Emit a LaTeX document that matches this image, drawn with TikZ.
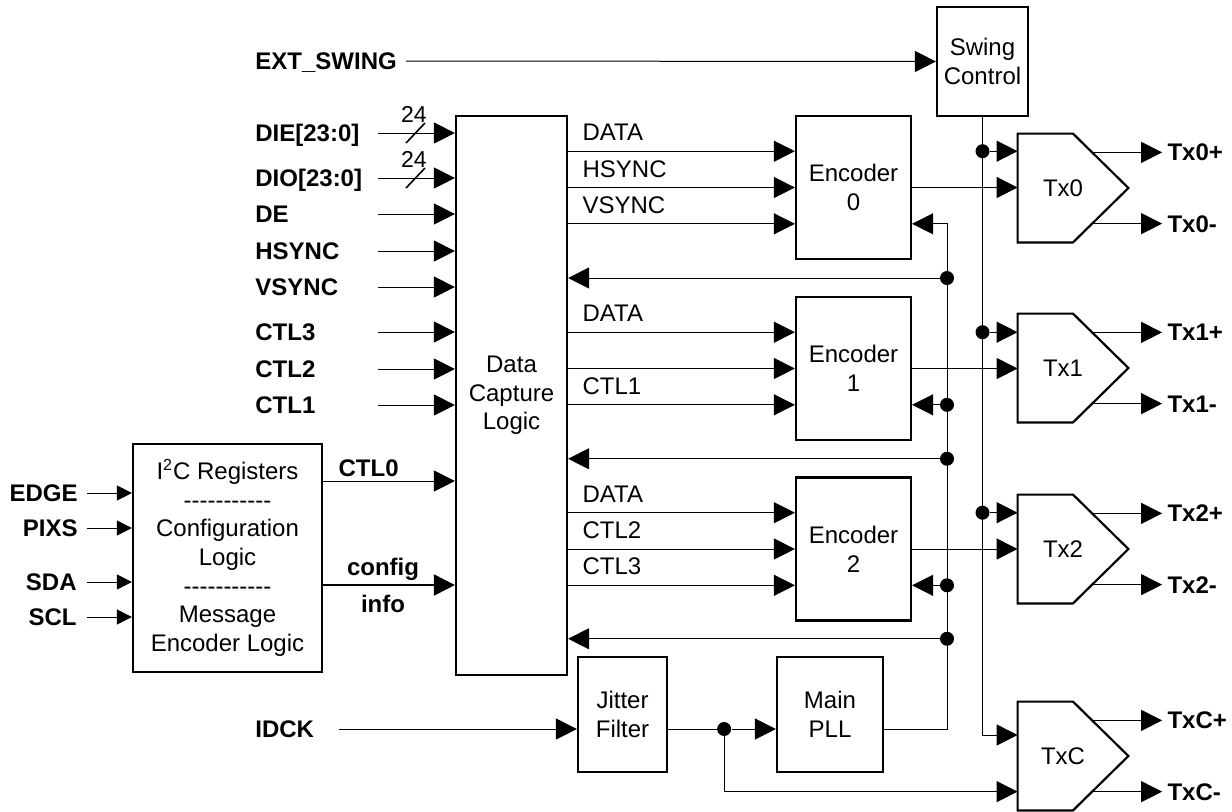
\documentclass[tikz,border=0pt]{standalone}
\usepackage{fontspec}
\setmainfont{Liberation Sans}[Ligatures=TeXOff]
\usetikzlibrary{arrows.meta,calc}
\begin{document}
\begin{tikzpicture}[
    x=0.5pt, y=-0.5pt,
    font=\fontsize{12}{14.3}\selectfont,
    % Style for the function blocks
    block/.style={
        rectangle,
        draw=black,
        line width=1.1pt,
        align=center,
        inner sep=0pt
    },
    % Style for the transmitter outline
    txOutline/.style={
        draw=black,
        line width=1.1pt
    },
    % Style for the holder node of a transmitter
    txBox/.style={
        rectangle,
        minimum width=55pt,
        minimum height=54pt,
        inner sep=0pt
    },
    % Style for the bold pin names
    pinLabel/.style={
        font=\fontsize{12}{14.3}\selectfont\bfseries,
        inner sep=0pt,
        text height=8.6pt,
        text depth=0pt
    },
    % Style for the names on the internal buses
    busLabel/.style={
        inner sep=0pt,
        text height=8.6pt,
        text depth=0pt,
        anchor=west
    },
    % Style for the bus width marks
    widthLabel/.style={
        font=\fontsize{11.5}{13}\selectfont,
        inner sep=0pt
    },
    % Style for the signal lines
    sig/.style={
        draw=black,
        line width=0.5pt,
        -{Triangle[length=10.5pt,width=10.5pt]}
    },
    sigSmall/.style={
        draw=black,
        line width=0.5pt,
        -{Triangle[length=7.5pt,width=7.5pt]}
    },
    wire/.style={
        draw=black,
        line width=0.5pt
    },
    % Style for the junction dots
    junction/.style={
        circle,
        fill=black,
        inner sep=0pt,
        minimum size=7pt
    }
]
    \useasboundingbox (0,0) rectangle (1232,811);

    % --- BLOCKS ---
    \node[block, minimum width=55.5pt, minimum height=279.5pt] (dcl) at (511.5,395.5) {Data\\Capture\\Logic};
    \node[block, minimum width=94.5pt, minimum height=114pt] (i2c) at (227.5,558)
        {I\textsuperscript{2}C Registers\\-----------\\Configuration\\Logic\\-----------\\Message\\Encoder Logic};
    \node[block, minimum width=45.5pt, minimum height=54.5pt] (swing) at (982.5,61.5) {Swing\\Control};
    \node[block, minimum width=57.5pt, minimum height=71.5pt] (enc0) at (853.5,187.5) {Encoder\\0};
    \node[block, minimum width=57.5pt, minimum height=71.5pt] (enc1) at (853.5,368.5) {Encoder\\1};
    \node[block, minimum width=57.5pt, minimum height=71.5pt] (enc2) at (853.5,549) {Encoder\\2};
    \node[block, minimum width=44.5pt, minimum height=57.5pt] (jitter) at (622.5,714.5) {Jitter\\Filter};
    \node[block, minimum width=53pt, minimum height=57.5pt] (pll) at (830,714.5) {Main\\PLL};

    % --- TRANSMITTERS ---
    \node[txBox] (tx0) at (1073,188) {Tx0\hspace*{10pt}};
    \node[txBox] (tx1) at (1073,368) {Tx1\hspace*{10pt}};
    \node[txBox] (tx2) at (1073,549) {Tx2\hspace*{10pt}};
    \node[txBox] (txc) at (1073,756) {TxC\hspace*{10pt}};
    \draw[txOutline] (tx0.north west) -- (tx0.north) -- (tx0.east) -- (tx0.south) -- (tx0.south west) -- cycle;
    \draw[txOutline] (tx1.north west) -- (tx1.north) -- (tx1.east) -- (tx1.south) -- (tx1.south west) -- cycle;
    \draw[txOutline] (tx2.north west) -- (tx2.north) -- (tx2.east) -- (tx2.south) -- (tx2.south west) -- cycle;
    \draw[txOutline] (txc.north west) -- (txc.north) -- (txc.east) -- (txc.south) -- (txc.south west) -- cycle;

    % --- ROWS ---
    \coordinate (r0a) at ($(enc0.north west)!0.25!(enc0.south west)$);
    \coordinate (r0c) at ($(enc0.north west)!0.75!(enc0.south west)$);
    \coordinate (r1a) at ($(enc1.north west)!0.25!(enc1.south west)$);
    \coordinate (r1c) at ($(enc1.north west)!0.75!(enc1.south west)$);
    \coordinate (r2a) at ($(enc2.north west)!0.25!(enc2.south west)$);
    \coordinate (r2c) at ($(enc2.north west)!0.75!(enc2.south west)$);
    \coordinate (fb0) at ($(enc0.south)!0.5!(enc1.north)$);
    \coordinate (fb1) at ($(enc1.south)!0.5!(enc2.north)$);
    \coordinate (fb2) at ($(enc2.south)!0.5!(pll.north)$);
    \coordinate (clkx) at (947,0);
    \coordinate (inx) at (378,0);
    \coordinate (lx) at (87,0);
    \coordinate (ctl0row) at (0,481);
    \coordinate (cfgrow) at (0,585);
    \coordinate (swc) at ($(txc.west)+(0,-21)$);

    % --- TOP INPUT ---
    \node[pinLabel, anchor=west] (extsw) at (255,61) {EXT\_SWING};
    \draw[sig] ([xshift=4.5pt]extsw.east) -- (swing.west);

    % --- VIDEO INPUTS ---
    \node[pinLabel, anchor=west] (die) at (255,133) {DIE[23:0]};
    \node[pinLabel, anchor=west] (dio) at (255,178) {DIO[23:0]};
    \node[pinLabel, anchor=west] (de) at (255,214) {DE};
    \node[pinLabel, anchor=west] (hs) at (255,251) {HSYNC};
    \node[pinLabel, anchor=west] (vs) at (255,287) {VSYNC};
    \node[pinLabel, anchor=west] (ctl3) at (255,332) {CTL3};
    \node[pinLabel, anchor=west] (ctl2) at (255,369) {CTL2};
    \node[pinLabel, anchor=west] (ctl1) at (255,405) {CTL1};
    \draw[sig] (die -| inx) -- (die -| dcl.west);
    \draw[sig] (dio -| inx) -- (dio -| dcl.west);
    \draw[sig] (de -| inx) -- (de -| dcl.west);
    \draw[sig] (hs -| inx) -- (hs -| dcl.west);
    \draw[sig] (vs -| inx) -- (vs -| dcl.west);
    \draw[sig] (ctl3 -| inx) -- (ctl3 -| dcl.west);
    \draw[sig] (ctl2 -| inx) -- (ctl2 -| dcl.west);
    \draw[sig] (ctl1 -| inx) -- (ctl1 -| dcl.west);
    % bus width marks
    \draw[wire, line width=0.8pt] ([shift={(28,10)}]die -| inx) -- ++(19,-20);
    \draw[wire, line width=0.8pt] ([shift={(28,10)}]dio -| inx) -- ++(19,-20);
    \node[widthLabel] (dieW) at ([shift={(36,-19)}]die -| inx) {24};
    \node[widthLabel] (dioW) at ([shift={(36,-19)}]dio -| inx) {24};

    % --- I2C INPUTS ---
    \node[pinLabel, anchor=east] (edge) at (78,493) {EDGE};
    \node[pinLabel, anchor=east] (pixs) at (78,528) {PIXS};
    \node[pinLabel, anchor=east] (sda) at (77,582) {SDA};
    \node[pinLabel, anchor=east] (scl) at (77,617) {SCL};
    \draw[sigSmall] (edge -| lx) -- (edge -| i2c.west);
    \draw[sigSmall] (pixs -| lx) -- (pixs -| i2c.west);
    \draw[sigSmall] (sda -| lx) -- (sda -| i2c.west);
    \draw[sigSmall] (scl -| lx) -- (scl -| i2c.west);

    % --- I2C TO DATA CAPTURE ---
    \draw[sig] (i2c.east |- ctl0row) -- (dcl.west |- ctl0row)
        node[pinLabel, pos=0, anchor=south west, xshift=7.5pt, yshift=2.2pt] (ctl0lbl) {CTL0};
    \draw[sig, line width=1pt] (i2c.east |- cfgrow) -- (dcl.west |- cfgrow)
        node[pinLabel, midway, above, xshift=-3pt, yshift=4.5pt] (cfglbl) {config}
        node[pinLabel, midway, below, xshift=-3pt, yshift=-4.5pt] (infolbl) {info};

    % --- DATA CAPTURE TO ENCODERS ---
    \draw[sig] (dcl.east |- r0a) -- (enc0.west |- r0a)
        node[busLabel, pos=0, xshift=7pt, yshift=9.5pt] (d0lbl) {DATA};
    \draw[sig] (dcl.east |- enc0.west) -- (enc0.west)
        node[busLabel, pos=0, xshift=7pt, yshift=9.5pt] (h0lbl) {HSYNC};
    \draw[sig] (dcl.east |- r0c) -- (enc0.west |- r0c)
        node[busLabel, pos=0, xshift=7pt, yshift=9.5pt] (v0lbl) {VSYNC};
    \draw[sig] (dcl.east |- r1a) -- (enc1.west |- r1a)
        node[busLabel, pos=0, xshift=7pt, yshift=9.5pt] (d1lbl) {DATA};
    \draw[sig] (dcl.east |- enc1.west) -- (enc1.west);
    \draw[sig] (dcl.east |- r1c) -- (enc1.west |- r1c)
        node[busLabel, pos=0, xshift=7pt, yshift=9.5pt] (c1lbl) {CTL1};
    \draw[sig] (dcl.east |- r2a) -- (enc2.west |- r2a)
        node[busLabel, pos=0, xshift=7pt, yshift=9.5pt] (d2lbl) {DATA};
    \draw[sig] (dcl.east |- enc2.west) -- (enc2.west)
        node[busLabel, pos=0, xshift=7pt, yshift=9.5pt] (c2lbl) {CTL2};
    \draw[sig] (dcl.east |- r2c) -- (enc2.west |- r2c)
        node[busLabel, pos=0, xshift=7pt, yshift=9.5pt] (c3lbl) {CTL3};

    % --- ENCODERS TO TRANSMITTERS ---
    \draw[sig] (enc0.east) -- (enc0.east -| tx0.west);
    \draw[sig] (enc1.east) -- (enc1.east -| tx1.west);
    \draw[sig] (enc2.east) -- (enc2.east -| tx2.west);

    % --- SWING CONTROL ---
    \node[junction] (sw0) at (swing.south |- r0a) {};
    \node[junction] (sw1) at (swing.south |- r1a) {};
    \node[junction] (sw2) at (swing.south |- r2a) {};
    \draw[sig] (swing.south) |- (txc.west |- swc);
    \draw[sig] (sw0) -- (sw0 -| tx0.west);
    \draw[sig] (sw1) -- (sw1 -| tx1.west);
    \draw[sig] (sw2) -- (sw2 -| tx2.west);

    % --- CLOCK ---
    \node[pinLabel, anchor=west] (idck) at (255,729) {IDCK};
    \draw[sig] ([xshift=12.5pt]idck.east) -- (idck -| jitter.west);
    \node[junction] (dotj) at ($(jitter.east |- idck)+(56,0)$) {};
    \draw[wire] (jitter.east |- dotj) -- (dotj);
    \draw[sig] (dotj) -- (dotj -| pll.west);
    \draw[sig] (pll.east |- dotj) -| (clkx |- r0c) -- (enc0.east |- r0c);
    \node[junction] (ck0) at (clkx |- fb0) {};
    \node[junction] (ck1) at (clkx |- r1c) {};
    \node[junction] (ck2) at (clkx |- fb1) {};
    \node[junction] (ck3) at (clkx |- r2c) {};
    \node[junction] (ck4) at (clkx |- fb2) {};
    \draw[sig] (ck0) -- (ck0 -| dcl.east);
    \draw[sig] (ck1) -- (ck1 -| enc1.east);
    \draw[sig] (ck2) -- (ck2 -| dcl.east);
    \draw[sig] (ck3) -- (ck3 -| enc2.east);
    \draw[sig] (ck4) -- (ck4 -| dcl.east);

    % --- OUTPUTS ---
    \node[pinLabel, anchor=west] (tx0p) at ($(tx0.north)!0.345!(tx0.east)+(75,0)$) {Tx0+};
    \node[pinLabel, anchor=west] (tx0m) at ($(tx0.south)!0.345!(tx0.east)+(75,0)$) {Tx0-};
    \node[pinLabel, anchor=west] (tx1p) at ($(tx1.north)!0.345!(tx1.east)+(75,0)$) {Tx1+};
    \node[pinLabel, anchor=west] (tx1m) at ($(tx1.south)!0.345!(tx1.east)+(75,0)$) {Tx1-};
    \node[pinLabel, anchor=west] (tx2p) at ($(tx2.north)!0.345!(tx2.east)+(75,0)$) {Tx2+};
    \node[pinLabel, anchor=west] (tx2m) at ($(tx2.south)!0.345!(tx2.east)+(75,0)$) {Tx2-};
    \node[pinLabel, anchor=west] (txcp) at ($(txc.north)!0.345!(txc.east)+(75,0)$) {TxC+};
    \node[pinLabel, anchor=west] (txcm) at ($(txc.south)!0.345!(txc.east)+(75,0)$) {TxC-};
    \draw[sig, shorten >=2.5pt] ($(tx0.north)!0.345!(tx0.east)$) -- (tx0p.west);
    \draw[sig, shorten >=2.5pt] ($(tx0.south)!0.345!(tx0.east)$) -- (tx0m.west);
    \draw[sig, shorten >=2.5pt] ($(tx1.north)!0.345!(tx1.east)$) -- (tx1p.west);
    \draw[sig, shorten >=2.5pt] ($(tx1.south)!0.345!(tx1.east)$) -- (tx1m.west);
    \draw[sig, shorten >=2.5pt] ($(tx2.north)!0.345!(tx2.east)$) -- (tx2p.west);
    \draw[sig, shorten >=2.5pt] ($(tx2.south)!0.345!(tx2.east)$) -- (tx2m.west);
    \draw[sig, shorten >=2.5pt] ($(txc.north)!0.345!(txc.east)$) -- (txcp.west);
    \draw[sig, shorten >=2.5pt] ($(txc.south)!0.345!(txc.east)$) -- (txcm.west);
    \draw[sig] (dotj) |- (txcm -| txc.west);

\end{tikzpicture}
\end{document}
